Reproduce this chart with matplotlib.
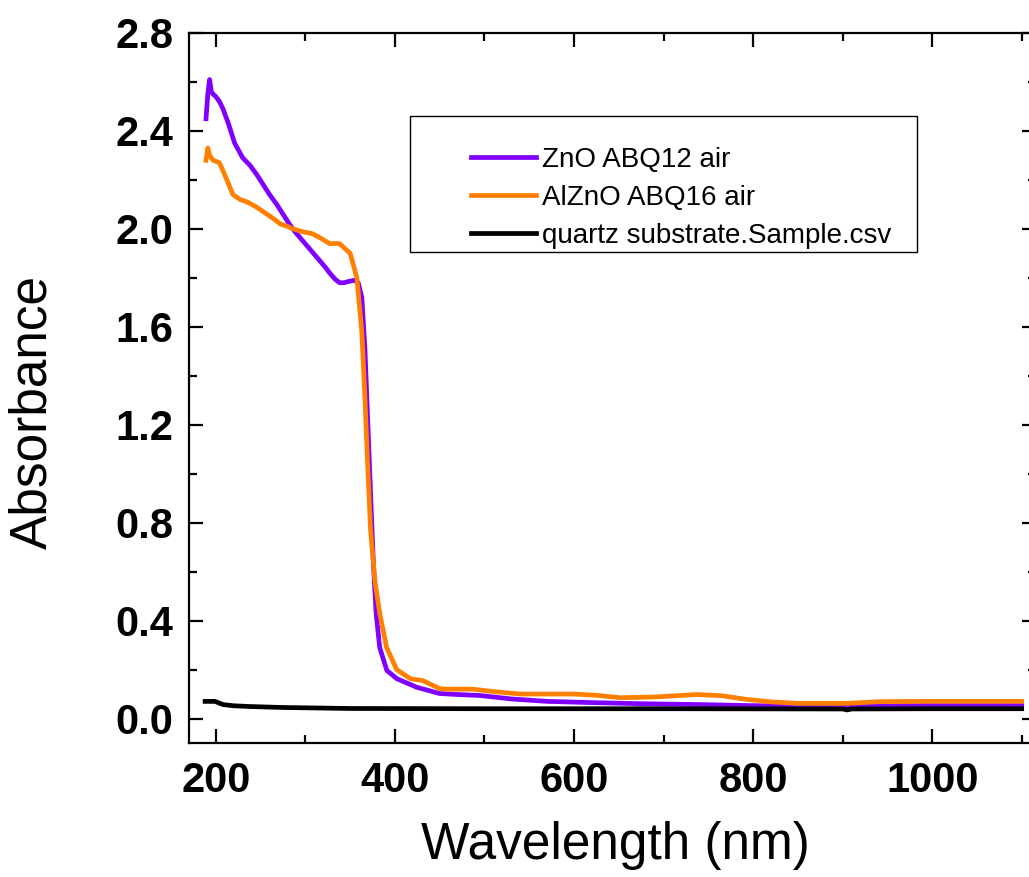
import matplotlib
matplotlib.use("Agg")
import matplotlib.pyplot as plt
from matplotlib.patches import Rectangle
from matplotlib.ticker import MultipleLocator

# ---- data ----
zno_wl = [189, 191, 193, 195, 197, 200, 204, 208, 214, 221, 230, 238, 246, 253, 260,
          268, 275, 282, 288, 295, 302, 309, 316, 323, 327, 333, 338, 343, 348, 355,
          359, 363, 366.5, 370, 373, 376, 379, 383, 391, 402, 424, 450, 470, 495,
          530, 570, 620, 681, 740, 793, 850, 905, 960, 1020, 1100]
zno_abs = [2.45, 2.55, 2.61, 2.56, 2.55, 2.54, 2.52, 2.49, 2.43, 2.35, 2.29, 2.26, 2.22, 2.18, 2.14,
           2.10, 2.06, 2.02, 1.99, 1.96, 1.93, 1.90, 1.87, 1.84, 1.82, 1.795, 1.78, 1.78, 1.785, 1.79,
           1.78, 1.72, 1.51, 1.18, 0.90, 0.63, 0.43, 0.29, 0.196, 0.163, 0.128, 0.102, 0.098, 0.094,
           0.08, 0.07, 0.065, 0.06, 0.057, 0.053, 0.05, 0.05, 0.052, 0.055, 0.057]

alzno_wl = [189, 191, 193, 197, 204, 210, 219, 227, 235, 245, 257, 265, 272, 280, 286,
            295, 308, 318, 327, 338, 350, 357.5, 363, 366.5, 369.5, 372.8, 377.7, 383, 390.7,
            402, 417, 431, 450, 458, 470, 487, 510, 540, 570, 599, 625, 651, 690, 737,
            765, 793, 820, 849, 905, 942, 1000, 1100]
alzno_abs = [2.28, 2.33, 2.30, 2.28, 2.27, 2.22, 2.14, 2.12, 2.11, 2.09, 2.06, 2.04, 2.02, 2.01, 2.00,
             1.99, 1.98, 1.96, 1.94, 1.94, 1.90, 1.80, 1.58, 1.31, 1.04, 0.77, 0.56, 0.43, 0.29,
             0.20, 0.163, 0.155, 0.122, 0.12, 0.12, 0.12, 0.11, 0.10, 0.10, 0.10, 0.095, 0.085, 0.088, 0.098,
             0.093, 0.078, 0.068, 0.062, 0.062, 0.069, 0.07, 0.07]

quartz_wl = [188, 199, 208, 220, 238, 275, 350, 500, 700, 900, 905, 910, 1000, 1100]
quartz_abs = [0.07, 0.07, 0.057, 0.052, 0.049, 0.045, 0.041, 0.04, 0.04, 0.039, 0.035, 0.039, 0.04, 0.04]

labels = ["ZnO ABQ12 air", "AlZnO ABQ16 air", "quartz substrate.Sample.csv"]
colors = ["#8000FF", "#FF8000", "#000000"]

W, H = 1029, 877
fig = plt.figure(figsize=(W / 100, H / 100), dpi=100)
ax = fig.add_axes([189 / W, 1 - 743 / H, (1036 - 189) / W, (743 - 33) / H])

series = [(zno_wl, zno_abs), (alzno_wl, alzno_abs), (quartz_wl, quartz_abs)]
for (x, y), lab, c in zip(series, labels, colors):
    ax.plot(x, y, color=c, lw=3.4, label=lab, solid_joinstyle="round")

ax.set_xlim(170, 1116)
ax.set_ylim(-0.1, 2.8)
ax.xaxis.set_major_locator(MultipleLocator(200))
ax.xaxis.set_minor_locator(MultipleLocator(100))
ax.yaxis.set_major_locator(MultipleLocator(0.4))
ax.yaxis.set_minor_locator(MultipleLocator(0.2))
ax.yaxis.set_major_formatter(matplotlib.ticker.FormatStrFormatter("%.1f"))

for s in ax.spines.values():
    s.set_linewidth(1.6)
ax.tick_params(which="both", direction="in", top=True, right=True, width=1.6)
ax.tick_params(which="major", length=10)
ax.tick_params(which="minor", length=6)
ax.tick_params(axis="y", which="major", pad=11)
ax.tick_params(axis="x", which="major", pad=13)
for t in ax.get_xticklabels() + ax.get_yticklabels():
    t.set_fontfamily("Liberation Sans")
    t.set_fontweight("bold")
    t.set_fontsize(30)

fig.text(33 / W, 1 - 412 / H, "Absorbance", rotation=90, ha="center", va="center",
         fontsize=37, family="Liberation Sans")
fig.text(615 / W, 1 - 845 / H, "Wavelength (nm)", ha="center", va="center",
         fontsize=37, family="Liberation Sans")

# legend box
fig.patches.append(Rectangle((410 / W, 1 - 252 / H), (917 - 410) / W, (252 - 116) / H,
                             transform=fig.transFigure, fill=False, edgecolor="black", lw=1.0))
leg = ax.legend(loc="upper left", bbox_to_anchor=(471 / W, 1 - 147 / H),
                bbox_transform=fig.transFigure, frameon=False, borderpad=0, borderaxespad=0,
                handlelength=2.35, handletextpad=0.22, labelspacing=0.43,
                prop={"family": "Liberation Sans", "size": 20})
for line in leg.get_lines():
    line.set_linewidth(3.4)

fig.savefig("out.png", dpi=100)
